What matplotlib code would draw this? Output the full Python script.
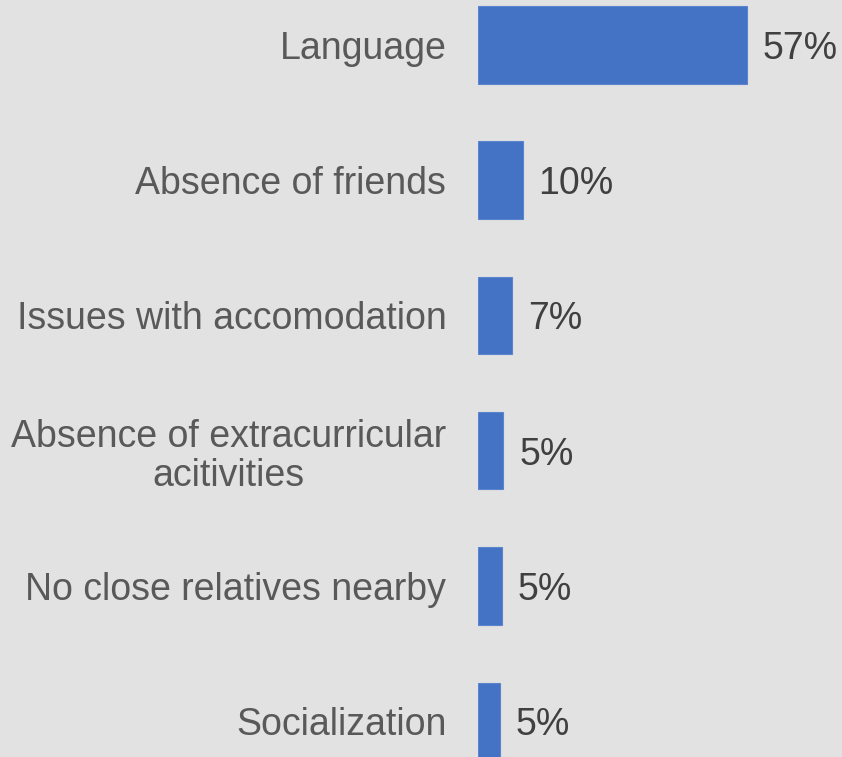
import matplotlib.pyplot as plt

# Survey answers, biggest first (top of chart)
categories = ['Language', 'Absence of friends', 'Issues with accomodation',
              'Absence of extracurricular\nacitivities', 'No close relatives nearby',
              'Socialization']
values = [57.0, 9.4, 7.2, 5.3, 5.0, 4.6]
value_labels = ['57%', '10%', '7%', '5%', '5%', '5%']

bg = '#e2e2e2'
plt.rcParams['font.family'] = ['Liberation Sans', 'DejaVu Sans']

fig = plt.figure(figsize=(8.42, 7.57), dpi=100, facecolor=bg)
ax = fig.add_axes([478.3 / 842, 0, 1 - 478.3 / 842, 1])
ax.set_facecolor(bg)

pos = list(range(len(categories)))
ax.barh(pos, values, height=0.573, color='#4472C4', edgecolor='#5a84cc', linewidth=0.8)

for y, v, lab in zip(pos, values, value_labels):
    ax.annotate(lab, (v, y), xytext=(16, 0), textcoords='offset pixels',
                va='center_baseline', ha='left', fontsize=27, color='#404040')

ax.set_yticks(pos)
ax.set_yticklabels(categories, fontsize=27, color='#595959', linespacing=1.12,
                   multialignment='center')
ax.tick_params(axis='y', length=0, pad=23)
ax.set_xticks([])

ax.set_xlim(0, (842 - 478.3) / 4.707)
ax.set_ylim(5.264, -0.3307)
for s in ax.spines.values():
    s.set_visible(False)

fig.savefig('out.png', dpi=100, facecolor=bg)
